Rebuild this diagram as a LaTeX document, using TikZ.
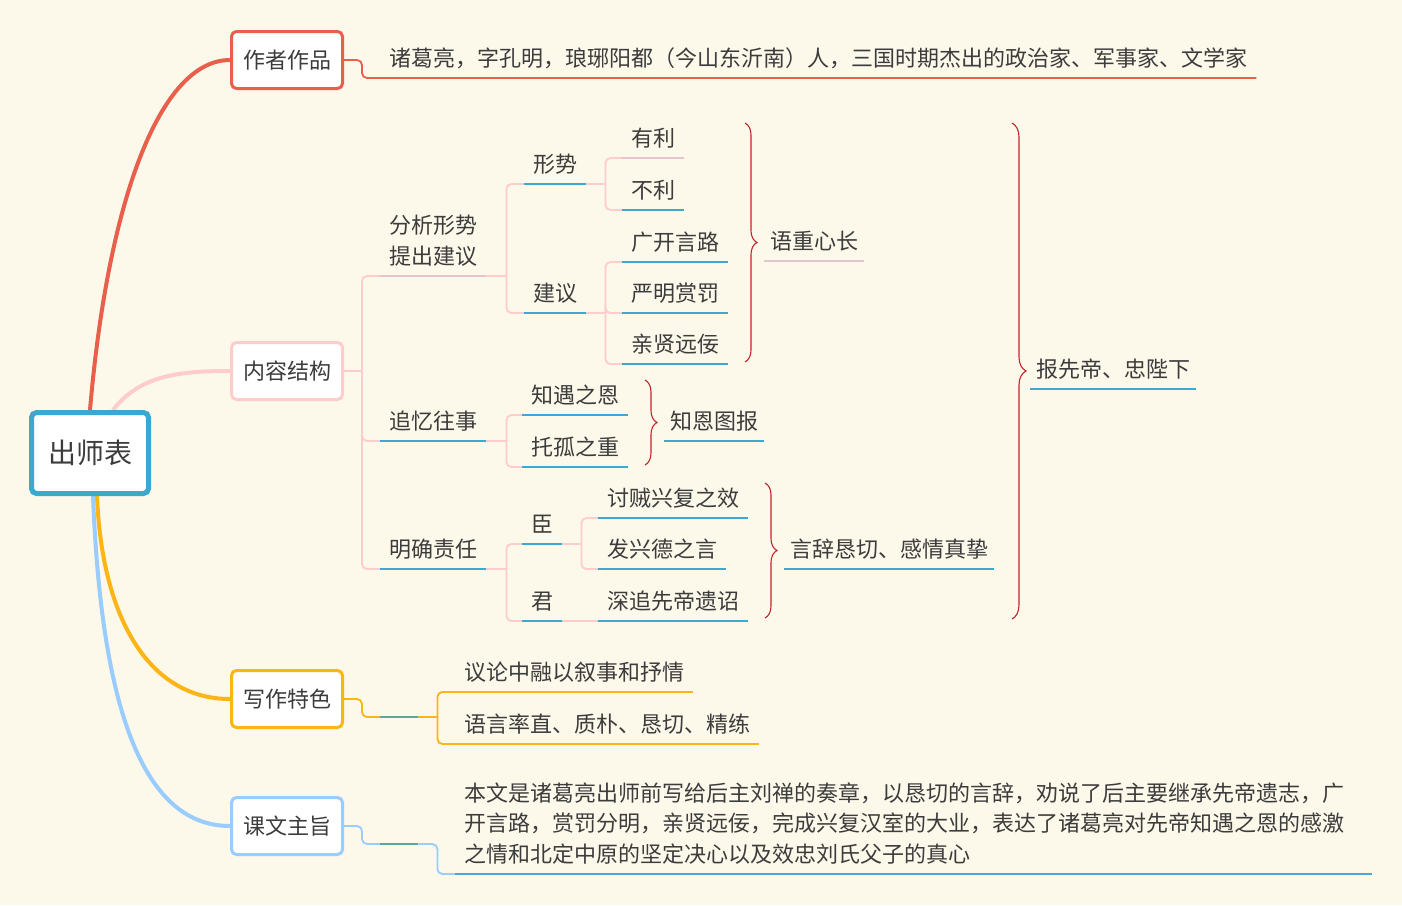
\documentclass[tikz,border=0pt]{standalone}
\usepackage{fontspec}
\setmainfont{Noto Sans CJK SC}
\usetikzlibrary{backgrounds,decorations.pathreplacing}

\definecolor{paper}{HTML}{FCF8EA}
\definecolor{ink}{HTML}{3C3C3C}
\definecolor{rootteal}{HTML}{3BA9CF}
\definecolor{topicred}{HTML}{E8604C}
\definecolor{topicpink}{HTML}{FFCCCC}
\definecolor{topicorange}{HTML}{FDB515}
\definecolor{topicblue}{HTML}{99CCFF}
\definecolor{ulblue}{HTML}{3DA8D4}
\definecolor{ulsky}{HTML}{4BA6DE}
\definecolor{ulpink}{HTML}{E6C4CE}
\definecolor{ulteal}{HTML}{5BA89A}
\definecolor{bracered}{HTML}{C0272D}

\tikzset{
  root/.style={draw=rootteal, line width=5pt, rounded corners=5pt, fill=white,
    minimum width=117pt, minimum height=81pt, inner sep=0pt, text=ink,
    font=\fontsize{28}{34}\selectfont},
  topic/.style={line width=3pt, rounded corners=5pt, fill=white,
    minimum width=111pt, minimum height=57pt, inner sep=0pt, text=ink},
  leaf/.style={anchor=south west, inner xsep=9pt, inner ysep=9.6pt,
    text height=18.7pt, text depth=2pt, text=ink},
  para/.style={anchor=south west, inner xsep=9pt, inner ysep=9.6pt,
    align=left, text=ink},
  note/.style={leaf, inner xsep=6pt},
  uline/.style={line width=1.6pt},
  link/.style={line width=1.8pt, rounded corners=5pt},
  arm/.style={line width=4pt},
  curly/.style={decorate, decoration={brace, amplitude=12pt},
    draw=bracered, line width=1.1pt},
}

\begin{document}
\begin{tikzpicture}[x=1pt, y=-1pt, font=\fontsize{22}{30.5}\selectfont]
        \useasboundingbox (0,0) rectangle (1402,905);
        %% Root and main topics
        \node[root] (root) at (90,453) {出师表};
        \node[topic, draw=topicred] (author) at (287,60) {作者作品};
        \node[topic, draw=topicpink] (struct) at (287,371) {内容结构};
        \node[topic, draw=topicorange] (feat) at (287,699) {写作特色};
        \node[topic, draw=topicblue] (theme) at (287,826) {课文主旨};
        %% Author
        \node[leaf] (intro) at (380,78) {诸葛亮，字孔明，琅琊阳都（今山东沂南）人，三国时期杰出的政治家、军事家、文学家};
        %% Structure
        \node[para] (k1) at (380,276) {分析形势\\提出建议};
        \node[leaf] (k2) at (380,441) {追忆往事};
        \node[leaf] (k3) at (380,569) {明确责任};
        \node[leaf] (s1) at (524,184) {形势};
        \node[leaf] (s2) at (524,313) {建议};
        \node[leaf] (y1) at (622,158) {有利};
        \node[leaf] (y2) at (622,210) {不利};
        \node[leaf] (j1) at (622,262) {广开言路};
        \node[leaf] (j2) at (622,313) {严明赏罚};
        \node[leaf] (j3) at (622,364) {亲贤远佞};
        \node[leaf] (m1) at (522,415) {知遇之恩};
        \node[leaf] (m2) at (522,467) {托孤之重};
        \node[leaf] (r1) at (522,544) {臣};
        \node[leaf] (r2) at (522,621) {君};
        \node[leaf] (t1) at (598,518) {讨贼兴复之效};
        \node[leaf] (t2) at (598,569) {发兴德之言};
        \node[leaf] (t3) at (598,621) {深追先帝遗诏};
        %% Summaries
        \node[note] (z1) at (764,261) {语重心长};
        \node[note] (z2) at (664,441) {知恩图报};
        \node[note] (z3) at (784,569) {言辞恳切、感情真挚};
        \node[note] (z4) at (1030,389) {报先帝、忠陛下};
        %% Features
        \node[leaf, minimum width=38pt, inner xsep=0pt] (e1) at (380,717) {};
        \node[leaf] (f1) at (455,692) {议论中融以叙事和抒情};
        \node[leaf] (f2) at (455,744) {语言率直、质朴、恳切、精练};
        %% Theme
        \node[leaf, minimum width=38pt, inner xsep=0pt] (e2) at (380,844) {};
        \node[para, text width=899pt] (p1) at (455,874) {本文是诸葛亮出师前写给后主刘禅的奏章，以恳切的言辞，劝说了后主要继承先帝遗志，广\\开言路，赏罚分明，亲贤远佞，完成兴复汉室的大业，表达了诸葛亮对先帝知遇之恩的感激\\之情和北定中原的坚定决心以及效忠刘氏父子的真心};

        \begin{scope}[on background layer]
            \fill[paper] (0,0) rectangle (1402,905);
            %% Branches out of the root
            \draw[arm, topicred] (root.north) .. controls +(18,-210) and +(-70,0) .. (author.west);
            \draw[arm, topicpink] ([xshift=23pt]root.north) .. controls +(27,-35) and +(-50,0) .. (struct.west);
            \draw[arm, topicorange] ([xshift=7pt]root.south) .. controls +(5,124) and +(-80,0) .. (feat.west);
            \draw[arm, topicblue] ([xshift=3pt]root.south) .. controls +(8,204) and +(-90,0) .. (theme.west);
        \end{scope}

        %% Connectors
        \draw[link, topicred] (author.east) -- ++(18,0) |- (intro.south east);
        \draw[link, topicpink] (struct.east) -- ++(18,0) coordinate (sj);
        \foreach \n in {k1,k2,k3} {
            \draw[link, topicpink] (sj) |- (\n.south west);
        }
        \draw[link, topicpink] (k1.south east) -- ++(20,0) coordinate (kj1);
        \foreach \n in {s1,s2} {
            \draw[link, topicpink] (kj1) |- (\n.south west);
        }
        \draw[link, topicpink] (s1.south east) -- ++(19,0) coordinate (sj1);
        \foreach \n in {y1,y2} {
            \draw[link, topicpink] (sj1) |- (\n.south west);
        }
        \draw[link, topicpink] (s2.south east) -- ++(19,0) coordinate (sj2);
        \foreach \n in {j1,j2,j3} {
            \draw[link, topicpink] (sj2) |- (\n.south west);
        }
        \draw[link, topicpink] (k2.south east) -- ++(20,0) coordinate (kj2);
        \foreach \n in {m1,m2} {
            \draw[link, topicpink] (kj2) |- (\n.south west);
        }
        \draw[link, topicpink] (k3.south east) -- ++(20,0) coordinate (kj3);
        \foreach \n in {r1,r2} {
            \draw[link, topicpink] (kj3) |- (\n.south west);
        }
        \draw[link, topicpink] (r1.south east) -- ++(19,0) coordinate (rj1);
        \foreach \n in {t1,t2} {
            \draw[link, topicpink] (rj1) |- (\n.south west);
        }
        \draw[link, topicpink] (r2.south east) -- (t3.south west);
        \draw[link, topicorange] (feat.east) -- ++(18,0) |- (e1.south west);
        \draw[link, topicorange] (e1.south east) -- ++(19,0) coordinate (fj);
        \foreach \n in {f1,f2} {
            \draw[link, topicorange] (fj) |- (\n.south west);
        }
        \draw[link, topicblue] (theme.east) -- ++(18,0) |- (e2.south west);
        \draw[link, topicblue] (e2.south east) -- ++(19,0) |- (p1.south west);

        %% Underlines
        \foreach \n in {k2,k3,s1,s2,y2,j1,j2,j3,m1,m2,r1,r2,t1,t2,t3,z2,z3,z4} {
            \draw[uline, ulblue] (\n.south west) -- (\n.south east);
        }
        \foreach \n in {k1,y1,z1} {
            \draw[uline, ulpink] (\n.south west) -- (\n.south east);
        }
        \foreach \n in {e1,e2} {
            \draw[uline, ulteal] (\n.south west) -- (\n.south east);
        }
        \foreach \n in {f1,f2} {
            \draw[uline, topicorange] (\n.south west) -- (\n.south east);
        }
        \draw[uline, ulsky] (p1.south west) -- (p1.south east);

        %% Braces
        \draw[curly] (745,123) -- (745,362);
        \draw[curly] (645,380) -- (645,465);
        \draw[curly] (765,483) -- (765,618);
        \draw[curly, decoration={amplitude=14pt}] (1012,123) -- (1012,619);
    \end{tikzpicture}
\end{document}
